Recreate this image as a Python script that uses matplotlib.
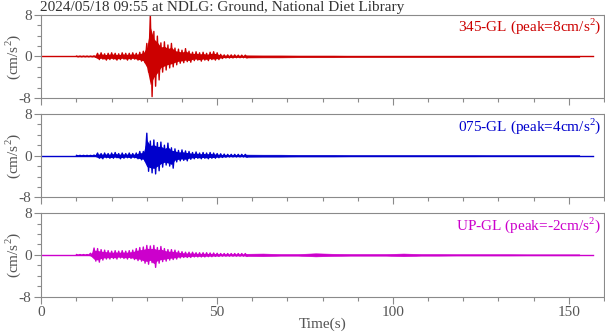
import numpy as np
import matplotlib
matplotlib.use('Agg')
import matplotlib.pyplot as plt
from matplotlib.ticker import MultipleLocator

plt.rcParams['font.family'] = 'Liberation Serif'
plt.rcParams['mathtext.fontset'] = 'custom'
plt.rcParams['mathtext.rm'] = 'Liberation Serif'

#-------------------------------------------------------------------------------
#DATA (envelopes, cm/s^2)
title = '2024/05/18 09:55 at NDLG: Ground, National Diet Library'
labels = ['345-GL (peak=8cm/s$^\\mathrm{2}$)',
          '075-GL (peak=4cm/s$^\\mathrm{2}$)',
          'UP-GL (peak=-2cm/s$^\\mathrm{2}$)']
colors = ['#cc0000', '#0000cc', '#cc00cc']
t_end = 156.8  #end of record (s)

#active part, one value per second from 10 s to 58 s
t_act = np.arange(10, 59)
up1 = [0.05, 0.05, 0.05, 0.05, 0.05, 0.1, 0.6, 0.7, 0.5, 0.6,
       0.7, 0.6, 0.5, 0.7, 0.6, 0.6, 0.7, 0.6, 0.8, 1.0,
       2.5, 8.0, 4.8, 3.9, 2.6, 2.8, 2.2, 2.5, 1.6, 1.4,
       1.2, 1.5, 1.0, 0.8, 0.9, 0.7, 0.8, 0.6, 0.8, 0.9,
       0.7, 0.4, 0.3, 0.3, 0.3, 0.3, 0.25, 0.25, 0.25]
lo1 = [-0.05, -0.05, -0.05, -0.05, -0.05, -0.1, -0.6, -0.5, -0.7, -0.6,
       -0.5, -0.7, -0.6, -0.5, -0.7, -0.6, -0.5, -0.7, -0.9, -1.2,
       -3.0, -7.7, -5.7, -4.5, -3.0, -2.6, -2.2, -2.0, -1.6, -1.3,
       -1.2, -1.0, -1.1, -0.8, -0.7, -0.9, -0.7, -0.8, -0.6, -0.7,
       -0.6, -0.4, -0.3, -0.3, -0.3, -0.25, -0.25, -0.25, -0.25]
up2 = [0.05, 0.05, 0.05, 0.05, 0.05, 0.1, 0.5, 0.4, 0.5, 0.4,
       0.5, 0.6, 0.4, 0.5, 0.4, 0.5, 0.4, 0.5, 0.8, 0.8,
       4.3, 2.8, 3.0, 2.5, 2.6, 2.0, 2.4, 1.5, 1.3, 1.0,
       1.1, 0.9, 0.8, 0.6, 0.7, 0.5, 0.6, 0.5, 0.6, 0.5,
       0.4, 0.35, 0.3, 0.25, 0.25, 0.25, 0.25, 0.25, 0.25]
lo2 = [-0.05, -0.05, -0.05, -0.05, -0.05, -0.1, -0.5, -0.6, -0.4, -0.5,
       -0.5, -0.4, -0.6, -0.5, -0.4, -0.5, -0.4, -0.6, -0.8, -1.0,
       -3.0, -3.3, -3.5, -2.9, -2.2, -1.8, -2.0, -2.4, -1.2, -1.0,
       -0.9, -1.0, -0.7, -0.6, -0.5, -0.6, -0.5, -0.6, -0.5, -0.5,
       -0.4, -0.35, -0.3, -0.25, -0.25, -0.25, -0.25, -0.25, -0.25]
up3 = [0.05, 0.05, 0.05, 0.05, 0.3, 1.3, 1.2, 1.0, 0.9, 0.8,
       0.7, 0.8, 0.7, 0.8, 0.7, 0.8, 0.9, 1.2, 1.4, 1.5,
       1.8, 1.7, 1.8, 1.4, 1.6, 1.2, 1.0, 1.0, 0.9, 0.7,
       0.6, 0.5, 0.5, 0.5, 0.4, 0.4, 0.4, 0.4, 0.35, 0.35,
       0.3, 0.25, 0.25, 0.25, 0.25, 0.25, 0.25, 0.25, 0.25]
lo3 = [-0.05, -0.05, -0.05, -0.05, -0.3, -1.2, -1.4, -1.0, -0.8, -0.8,
       -0.7, -0.8, -0.6, -0.7, -0.8, -0.7, -0.9, -1.1, -1.2, -1.6,
       -1.8, -1.5, -2.4, -1.6, -1.3, -1.2, -1.0, -0.9, -0.8, -0.6,
       -0.5, -0.5, -0.5, -0.4, -0.4, -0.4, -0.4, -0.35, -0.35, -0.3,
       -0.3, -0.25, -0.25, -0.25, -0.25, -0.25, -0.25, -0.25, -0.25]

#coda, one value every 5 s from 58 s
t_tail = np.arange(58, 158, 5)
amp1 = [0.2, 0.18, 0.18, 0.15, 0.15, 0.15, 0.12, 0.12, 0.12, 0.12,
        0.12, 0.12, 0.12, 0.12, 0.1, 0.1, 0.1, 0.1, 0.1, 0.1]
amp2 = [0.2, 0.18, 0.18, 0.15, 0.15, 0.15, 0.12, 0.12, 0.12, 0.12,
        0.12, 0.12, 0.12, 0.12, 0.1, 0.1, 0.1, 0.1, 0.1, 0.1]
amp3 = [0.2, 0.25, 0.15, 0.15, 0.3, 0.2, 0.15, 0.15, 0.15, 0.25,
        0.15, 0.15, 0.12, 0.12, 0.12, 0.12, 0.1, 0.1, 0.1, 0.1]

uppers = [up1, up2, up3]
lowers = [lo1, lo2, lo3]
tails = [amp1, amp2, amp3]

#-------------------------------------------------------------------------------
#PLOT
fig = plt.figure(figsize=(6.05, 3.34), dpi=100)
left, width = 0.0683, 0.930
bottoms = [0.706, 0.409, 0.112]
height = 0.250
gray = '#8a8a8a'
tcol = '#555555'
fs = 11

for i in range(3):
    ax = fig.add_axes([left, bottoms[i], width, height])
    c = colors[i]
    #baseline of the record
    ax.plot([0, t_end], [0, 0], color=c, lw=1.0)
    #trace: swing from upper to lower envelope every half second
    tz = np.column_stack([t_act, t_act + 0.5]).ravel()
    yz = np.column_stack([uppers[i], lowers[i]]).ravel()
    ax.plot(tz, yz, color=c, lw=1.0)
    #dense core of the trace
    ax.fill_between(t_act, np.array(lowers[i]) * 0.7, np.array(uppers[i]) * 0.7,
                    color=c, lw=0)
    a = np.array(tails[i])
    ax.fill_between(t_tail, -a, a, color=c, lw=0.4, edgecolor=c)
    ax.set_xlim(0, 160)
    ax.set_ylim(-8, 8)
    ax.set_yticks([-8, 0, 8])
    ax.set_yticklabels(['-8', '0', '8'])
    ax.yaxis.set_minor_locator(MultipleLocator(2))
    ax.xaxis.set_major_locator(MultipleLocator(50))
    ax.xaxis.set_minor_locator(MultipleLocator(10))
    ax.tick_params(which='major', length=5, width=0.8, color=gray,
                   labelcolor=tcol, labelsize=fs, pad=2)
    ax.tick_params(which='minor', length=3, width=0.8, color=gray)
    for s in ax.spines.values():
        s.set_color(gray)
        s.set_linewidth(0.8)
    #y label placed by hand, close to the left edge like the original
    pos = ax.get_position()
    fig.text(13 / 605, pos.y0 + pos.height / 2, '(cm/s$^\\mathrm{2}$)',
             color=tcol, fontsize=fs, rotation=90, ha='center', va='center')
    ax.text(0.995, 0.975, labels[i], color=c, fontsize=fs,
            ha='right', va='top', transform=ax.transAxes)
    if i < 2:
        ax.tick_params(labelbottom=False)
    else:
        ax.set_xlabel('Time(s)', color=tcol, fontsize=fs, labelpad=-1)
    if i == 0:
        ax.text(-0.002, 1.05, title, color='#333333', fontsize=fs,
                ha='left', va='baseline', transform=ax.transAxes)

fig.savefig('out.png', dpi=100)
